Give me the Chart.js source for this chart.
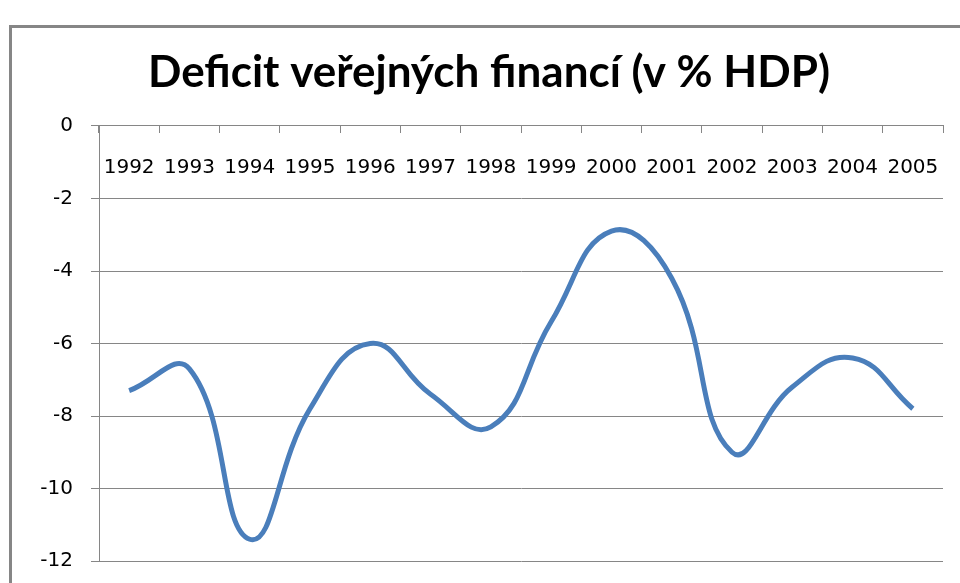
<!DOCTYPE html>
<html>
<head>
<meta charset="utf-8">
<script src="https://cdn.jsdelivr.net/npm/chart.js@4"></script>
<style>
  html, body { margin: 0; padding: 0; background: #fff; overflow: hidden; }
  #wrap { position: relative; width: 960px; height: 583px; }
  #frame {
    position: absolute; left: 9px; top: 25px;
    width: 1200px; height: 1000px;
    border: 3px solid #868686;
  }
  #deficitChart { position: absolute; left: 0; top: 0; }
</style>
</head>
<body>
<div id="wrap">
  <div id="frame"></div>
  <canvas id="deficitChart" width="960" height="583"></canvas>
</div>
<script>
const years = ['1992', '1993', '1994', '1995', '1996', '1997', '1998',
  '1999', '2000', '2001', '2002', '2003', '2004', '2005'];
const deficit = [-7.3, -6.7, -11.4, -7.8, -6.0, -7.4, -8.3,
  -5.4, -2.9, -4.2, -9.0, -7.2, -6.4, -7.8];
const yTicks = [0, -2, -4, -6, -8, -10, -12];

const titleText = 'Deficit veřejných financí (v % HDP)';
const gridGray = '#868686';

// size the title so it spans roughly the same width as in the original
function fitTitleSize(text, family, target) {
  const c = document.createElement('canvas').getContext('2d');
  c.font = 'bold 100px ' + family;
  return Math.round(100 * target / c.measureText(text).width);
}
const titleSize = fitTitleSize(titleText, 'Lato', 682);

// labels may hang outside the plot, don't let them shrink it
function noLabelPadding(scale) {
  scale.paddingTop = 0;
  scale.paddingBottom = 0;
  scale.paddingLeft = 0;
  scale.paddingRight = 0;
}

const ctx = document.getElementById('deficitChart');
new Chart(ctx, {
  type: 'line',
  data: {
    labels: years,
    datasets: [{
      label: 'Deficit',
      data: deficit,
      borderColor: '#4A7EBB',
      borderWidth: 5,
      pointRadius: 0,
      fill: false,
      tension: 0.45
    }]
  },
  options: {
    responsive: false,
    animation: false,
    layout: { padding: { left: 35, right: 17, top: 0, bottom: 22 } },
    plugins: {
      legend: { display: false },
      tooltip: { enabled: false },
      title: {
        display: true,
        text: titleText,
        color: '#000',
        font: { family: 'Lato', weight: 'bold', size: titleSize, lineHeight: 1.2 },
        padding: { top: 0, bottom: 0 }
      }
    },
    scales: {
      x: {
        type: 'category',
        position: { y: 0 },
        offset: true,
        afterFit: noLabelPadding,
        grid: {
          offset: true,
          drawOnChartArea: false,
          drawTicks: true,
          tickLength: 7,
          color: gridGray
        },
        border: { display: true, color: gridGray },
        ticks: {
          color: '#000',
          font: { family: 'DejaVu Sans', size: 20 },
          padding: 23,
          maxRotation: 0,
          autoSkip: false
        }
      },
      y: {
        min: -12,
        max: 0,
        afterBuildTicks: (scale) => {
          scale.ticks = yTicks.map(v => ({ value: v }));
        },
        afterFit: (scale) => {
          scale.width = 64;
          noLabelPadding(scale);
        },
        grid: { color: gridGray, tickLength: 8, drawTicks: true },
        border: { display: true, color: gridGray },
        ticks: {
          color: '#000',
          font: { family: 'DejaVu Sans', size: 20 },
          padding: 18
        }
      }
    }
  },
  plugins: [{
    id: 'titleSpace',
    beforeLayout(chart) {
      // keep the title block so the plot starts at the same height as the original
      const t = chart.options.plugins.title;
      const h = titleSize * 1.2;
      t.padding = { top: 73 - h / 2, bottom: 126 - (73 + h / 2) };
    }
  }]
});
</script>
</body>
</html>
